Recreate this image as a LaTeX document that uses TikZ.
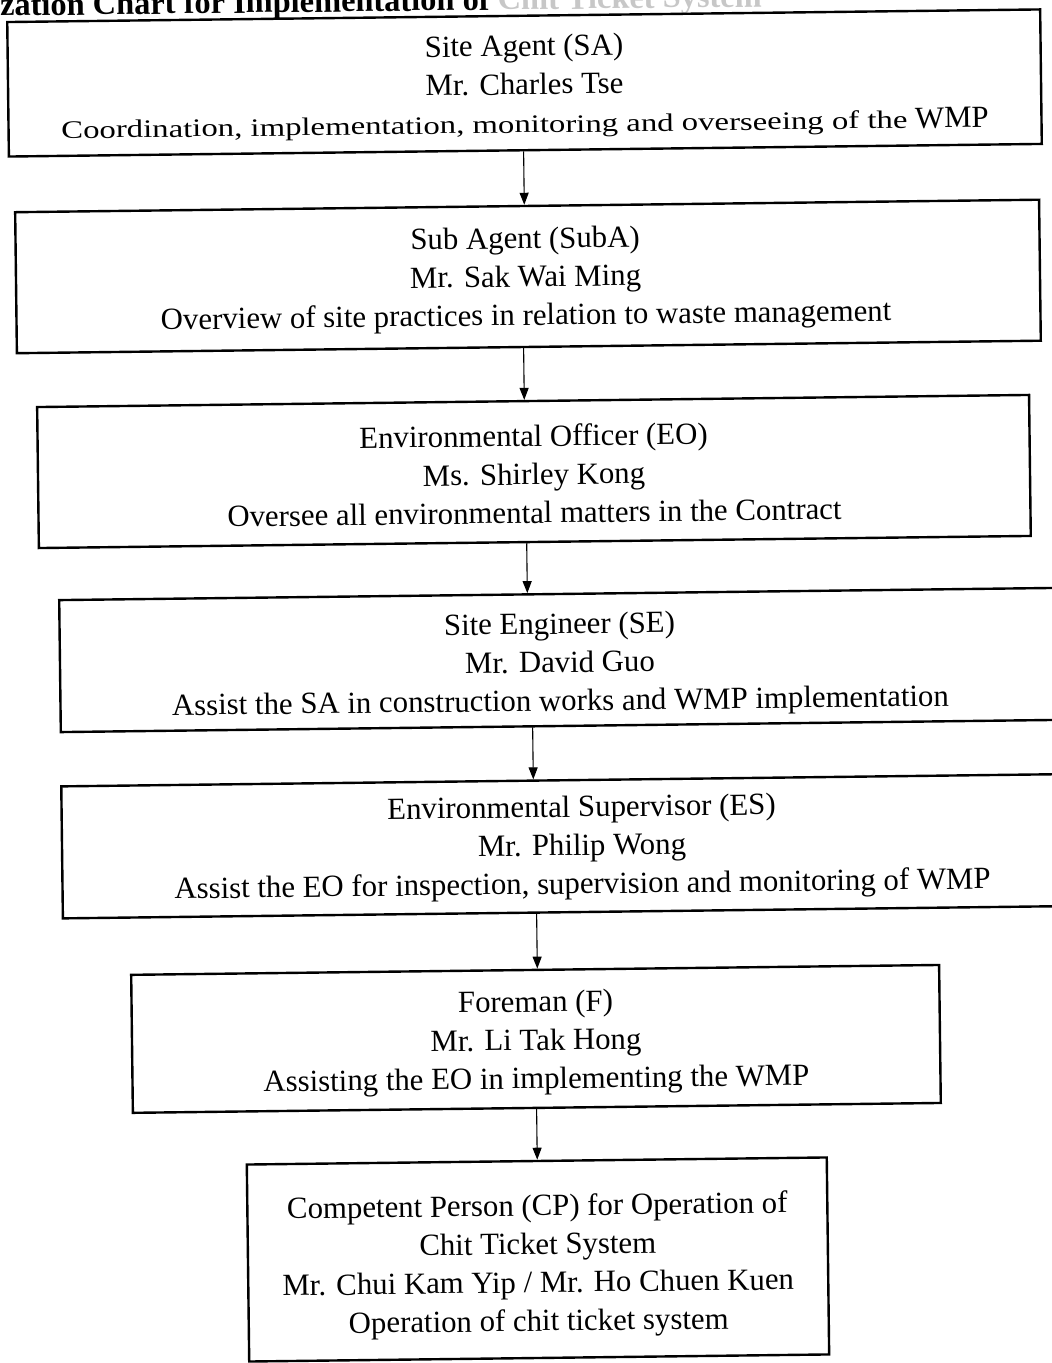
\documentclass[tikz,border=0pt]{standalone}
\usepackage{fontspec}
\setmainfont{Liberation Serif}
\newfontfamily\widefont[FakeStretch=1.3]{Liberation Serif}
\usetikzlibrary{arrows.meta}
\tikzset{
  box/.style={draw=black, line width=1.2pt, rectangle, inner sep=0pt},
  txt/.style={align=center, inner sep=0pt, font=\fontsize{15.4}{19.2}\selectfont},
  conn/.style={line width=0.55pt, -{Triangle[length=6pt,width=4.5pt]}},
}
\begin{document}
\begin{tikzpicture}[x=0.5pt,y=-0.5pt]
\useasboundingbox (0,0) rectangle (1052,1363);
\clip (0,0) rectangle (1052,1363);
\fill[white] (0,0) rectangle (1052,1363);
\begin{scope}[rotate around={0.7:(526,680)}, transform shape]
% title (cut off at the top edge, as in the scan)
\node[anchor=base west, inner sep=0pt, font=\fontsize{16.2}{19}\selectfont\bfseries] (title) at (8,9.6)
  {zation Chart for Implementation of \textcolor{black!22}{Chit Ticket System}};
% boxes
\node[box, minimum width=516.5pt, minimum height=67.25pt] (sa) at (531.8,83) {};
\node[box, minimum width=512pt, minimum height=70.5pt] (suba) at (532.9,276.5) {};
\node[box, minimum width=496pt, minimum height=70.5pt] (eo) at (536.5,471.6) {};
\node[box, minimum width=500pt, minimum height=66pt] (se) at (560.2,660.4) {};
\node[box, minimum width=520pt, minimum height=66pt] (es) at (580,846.7) {};
\node[box, minimum width=404pt, minimum height=69pt] (fm) at (531.6,1039) {};
\node[box, minimum width=290pt, minimum height=98.5pt] (cp) at (530.9,1259.6) {};
% texts
\node[txt, yshift=-1.75pt] (sa-t) at (sa.center)
  {Site Agent (SA)\\ Mr. Charles Tse\\ {\widefont\fontsize{12.6}{15}\selectfont Coordination, implementation, monitoring and overseeing of the} WMP};
\node[txt, yshift=-1.5pt, xshift=-1.2pt] (suba-t) at (suba.center)
  {Sub Agent (SubA)\\ Mr. Sak Wai Ming\\ Overview of site practices in relation to waste management};
\node[txt, yshift=-1.25pt] (eo-t) at (eo.center)
  {Environmental Officer (EO)\\ Ms. Shirley Kong\\ Oversee all environmental matters in the Contract};
\node[txt, yshift=-2.5pt] (se-t) at (se.center)
  {Site Engineer (SE)\\ Mr. David Guo\\ Assist the SA in construction works and WMP implementation};
\node[txt, yshift=-1pt] (es-t) at (es.center)
  {Environmental Supervisor (ES)\\ Mr. Philip Wong\\ Assist the EO for inspection, supervision and monitoring of WMP};
\node[txt, yshift=-2pt] (fm-t) at (fm.center)
  {Foreman (F)\\ Mr. Li Tak Hong\\ Assisting the EO in implementing the WMP};
\node[txt, yshift=-3.25pt] (cp-t) at (cp.center)
  {Competent Person (CP) for Operation of\\ Chit Ticket System\\ Mr. Chui Kam Yip / Mr. Ho Chuen Kuen\\ Operation of chit ticket system};
% arrow x positions
\coordinate (x1) at (530.1,0);
\coordinate (x2) at (527.7,0);
\coordinate (x3) at (528.4,0);
\coordinate (x4) at (532.1,0);
\coordinate (x5) at (533.8,0);
\coordinate (x6) at (531.4,0);
\draw[conn] (sa.south -| x1) -- (suba.north -| x1);
\draw[conn] (suba.south -| x2) -- (eo.north -| x2);
\draw[conn] (eo.south -| x3) -- (se.north -| x3);
\draw[conn] (se.south -| x4) -- (es.north -| x4);
\draw[conn] (es.south -| x5) -- (fm.north -| x5);
\draw[conn] (fm.south -| x6) -- (cp.north -| x6);
\end{scope}
\end{tikzpicture}
\end{document}
